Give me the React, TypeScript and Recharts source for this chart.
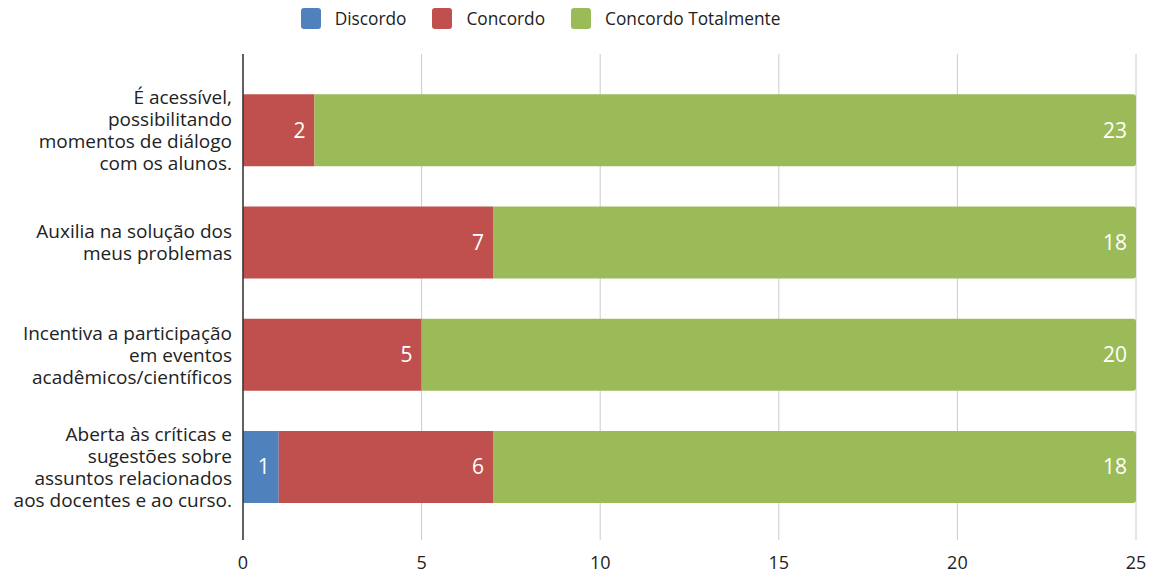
import { Bar, BarChart, CartesianGrid, LabelList, Legend, XAxis, YAxis } from 'recharts'

const categories = [
  'É acessível, possibilitando momentos de diálogo com os alunos.',
  'Auxilia na solução dos meus problemas',
  'Incentiva a participação em eventos acadêmicos/científicos',
  'Aberta às críticas e sugestões sobre assuntos relacionados aos docentes e ao curso.',
]

const categoryLines = [
  ['É acessível,', 'possibilitando', 'momentos de diálogo', 'com os alunos.'],
  ['Auxilia na solução dos', 'meus problemas'],
  ['Incentiva a participação', 'em eventos', 'acadêmicos/científicos'],
  ['Aberta às críticas e', 'sugestões sobre', 'assuntos relacionados', 'aos docentes e ao curso.'],
]

const discordo = [0, 0, 0, 1]
const concordo = [2, 7, 5, 6]
const concordoTotalmente = [23, 18, 20, 18]

const xTicks = [0, 5, 10, 15, 20, 25]

const series = [
  { key: 'discordo', name: 'Discordo', color: '#4F81BD' },
  { key: 'concordo', name: 'Concordo', color: '#C0504D' },
  { key: 'concordoTotalmente', name: 'Concordo Totalmente', color: '#9BBB59' },
]

const data = categories.map((name, i) => ({
  name,
  discordo: discordo[i],
  concordo: concordo[i],
  concordoTotalmente: concordoTotalmente[i],
}))

const FONT = '"Open Sans", sans-serif'

function CategoryTick(props: any) {
  const { x, y, payload } = props
  const lines = categoryLines[payload.index] ?? [payload.value]
  const lh = 22
  return (
    <text x={x} y={y} textAnchor="end" fill="#222" fontSize={19} fontFamily={FONT}>
      {lines.map((line, i) => (
        <tspan key={i} x={x} y={y + (i - (lines.length - 1) / 2) * lh} dominantBaseline="central">
          {line}
        </tspan>
      ))}
    </text>
  )
}

function LegendContent() {
  return (
    <div style={{ height: 54, display: 'flex', justifyContent: 'center', marginLeft: -55 }}>
      {series.map((s, i) => (
        <div key={s.key} style={{ display: 'flex', alignItems: 'center', height: 36, marginLeft: i ? 26 : 0 }}>
          <span style={{ width: 20, height: 21, background: s.color, borderRadius: 3, marginRight: 14 }} />
          <span style={{ fontSize: 17.3, color: '#222', fontFamily: FONT }}>{s.name}</span>
        </div>
      ))}
    </div>
  )
}

const hideZero = (v: any) => (v ? v : '')

export default function App() {
  return (
    <div style={{ position: 'absolute', left: 0, top: 0, fontFamily: FONT, background: '#fff' }}>
      <BarChart
        width={1167}
        height={578}
        data={data}
        layout="vertical"
        margin={{ top: 0, right: 31, bottom: 0, left: 0 }}
        barCategoryGap="18%"
      >
        <CartesianGrid horizontal={false} stroke="#cccccc" />
        <XAxis
          type="number"
          domain={[0, 25]}
          ticks={xTicks}
          axisLine={false}
          tickLine={false}
          tickMargin={10}
          height={38}
          tick={{ fill: '#222', fontSize: 18 }}
        />
        <YAxis
          type="category"
          dataKey="name"
          width={243}
          axisLine={{ stroke: '#333', strokeWidth: 1.5 }}
          tickLine={false}
          tickMargin={5}
          padding={{ top: 20, bottom: 17 }}
          tick={<CategoryTick />}
        />
        <Legend verticalAlign="top" content={<LegendContent />} />
        {series.map((s, i) => (
          <Bar
            key={s.key}
            dataKey={s.key}
            name={s.name}
            stackId="a"
            fill={s.color}
            isAnimationActive={false}
            radius={i === series.length - 1 ? [0, 3, 3, 0] : 0}
          >
            <LabelList
              dataKey={s.key}
              position="insideRight"
              offset={9}
              fill="#fff"
              fontSize={21}
              formatter={hideZero}
            />
          </Bar>
        ))}
      </BarChart>
    </div>
  )
}
